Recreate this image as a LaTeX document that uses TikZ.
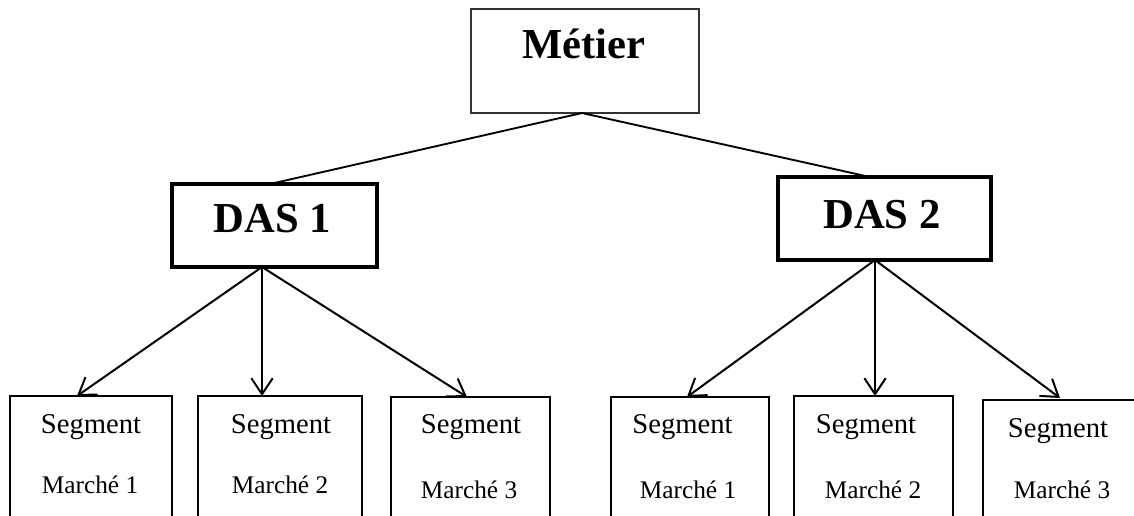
\documentclass[tikz,border=0pt]{standalone}
\usepackage{fontspec}
\setmainfont{Liberation Serif}
\usetikzlibrary{arrows.meta,calc}
\begin{document}
\begin{tikzpicture}[x=0.75pt,y=-0.75pt,
  box/.style={draw=black, line width=#1, inner sep=0pt, outer sep=0pt, fill=white},
  seg/.style={box=2.1pt, anchor=north, minimum height=101pt},
  big/.style={font=\fontsize{32}{36}\selectfont\bfseries, anchor=base, inner sep=0pt},
  segtxt/.style={font=\fontsize{21.5}{24}\selectfont, anchor=base, inner sep=0pt},
  mtxt/.style={font=\fontsize{19}{22}\selectfont, anchor=base, inner sep=0pt},
  link/.style={line width=1.4pt},
  arr/.style={line width=1.5pt, -{Straight Barb[length=12pt,width=16pt,line width=1.5pt]}}
]
\path[use as bounding box] (0,0) rectangle (1134,516);
\clip (0,0) rectangle (1134,516);

% top level
\node[box=1.2pt, draw=black!80, minimum width=171pt, minimum height=78pt] (metier) at (585,61) {};
\node[big] (metierlbl) at (584,59) {Métier};

% second level
\node[box=2.4pt, minimum width=153.75pt, minimum height=62.25pt] (das1) at (274.5,225.5) {};
\node[big] (das1lbl) at (272.5,233) {DAS 1};
\node[box=2.4pt, minimum width=159.75pt, minimum height=62.25pt] (das2) at (884.5,218.5) {};
\node[big] (das2lbl) at (882,229) {DAS 2};

% bottom level
\node[seg, minimum width=121.5pt] (s1) at (91,396) {};
\node[seg, minimum width=123pt] (s2) at (280,396) {};
\node[seg, minimum width=119.25pt] (s3) at (470.5,397) {};
\node[seg, minimum width=118.5pt] (s4) at (690,397) {};
\node[seg, minimum width=119.25pt] (s5) at (873.5,396) {};
\node[seg, minimum width=117.75pt] (s6) at (1061.5,400) {};

\node[segtxt] (s1a) at (91,433) {Segment};
\node[mtxt] (s1b) at (90,493) {Marché 1};
\node[segtxt] (s2a) at (281,433) {Segment};
\node[mtxt] (s2b) at (280,493) {Marché 2};
\node[segtxt] (s3a) at (471,433) {Segment};
\node[mtxt] (s3b) at (469,498) {Marché 3};
\node[segtxt] (s4a) at (682.5,433) {Segment};
\node[mtxt] (s4b) at (688,498) {Marché 1};
\node[segtxt] (s5a) at (866,433) {Segment};
\node[mtxt] (s5b) at (873,498) {Marché 2};
\node[segtxt] (s6a) at (1058,437) {Segment};
\node[mtxt] (s6b) at (1062,498) {Marché 3};

% connectors
\coordinate (m0) at ($(metier.south)+(-3,0)$);
\draw[link] (m0) -- ($(das1.north)+(-4.5,0)$);
\draw[link] (m0) -- ($(das2.north)+(-14.5,0)$);

\coordinate (d1) at ($(das1.south)+(-12.5,0)$);
\coordinate (d2) at ($(das2.south)+(-9.5,0)$);
\draw[arr] (d1) -- ($(s1.north)+(-14,0)$);
\draw[arr] (d1) -- (s2.north -| d1);
\draw[arr] (d1) -- ($(s3.north)+(-3.5,0)$);
\draw[arr] (d2) -- ($(s4.north)+(-3,0)$);
\draw[arr] (d2) -- (s5.north -| d2);
\draw[arr] (d2) -- ($(s6.north)+(-1.5,-2)$);
\end{tikzpicture}
\end{document}
